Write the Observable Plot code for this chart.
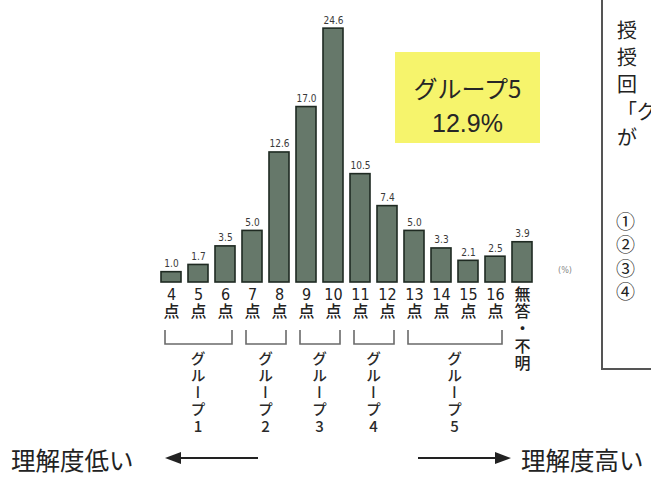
<!DOCTYPE html>
<html><head><meta charset="utf-8">
<script src="https://cdn.jsdelivr.net/npm/d3@7"></script>
<script src="https://cdn.jsdelivr.net/npm/@observablehq/plot@0.6"></script>
<style>
html,body{margin:0;padding:0;background:#fff;}
</style></head><body><div id="chart"></div>
<script>
const categories = ["4点","5点","6点","7点","8点","9点","10点","11点","12点","13点","14点","15点","16点","無答・不明"];
const values = [1.0,1.7,3.5,5.0,12.6,17.0,24.6,10.5,7.4,5.0,3.3,2.1,2.5,3.9];
const valueLabels = ["1.0","1.7","3.5","5.0","12.6","17.0","24.6","10.5","7.4","5.0","3.3","2.1","2.5","3.9"];
const groupNames = ["グループ1","グループ2","グループ3","グループ4","グループ5"];
const groupStart = ["4点","7点","9点","11点","13点"];
const groupEnd = ["6点","8点","10点","12点","16点"];
const highlightTitle = "グループ5";
const highlightValue = "12.9%";
const unitLabel = "(%)";
const lowLabel = "理解度低い";
const highLabel = "理解度高い";
const noteLines = ["授","授","回","「グ","が"];
const noteItems = ["①","②","③","④"];

const NARROW = "'Liberation Sans Narrow','DejaVu Sans Condensed','Roboto Condensed','Noto Sans CJK JP',sans-serif";
const JP = "'Noto Sans CJK JP','Noto Sans',sans-serif";

const rows = categories.map((c, i) => ({cat: c, value: values[i], label: valueLabels[i]}));
const tickText = c => c.endsWith("点") ? c.replace("点", "\n点") : [...c].join("\n");

const plot = Plot.plot({
  width: 651, height: 477,
  marginLeft: 150.6, marginRight: 109.4, marginTop: 24, marginBottom: 195,
  style: {background: "white", fontFamily: JP},
  x: {domain: categories, padding: 0.27, axis: null},
  y: {domain: [0, 25], axis: null},
  marks: [
    Plot.barY(rows, {x: "cat", y: "value", fill: "#66786a", stroke: "#1f2a22", strokeWidth: 1.6}),
    Plot.text(rows, {x: "cat", y: "value", text: "label", dy: -5, lineAnchor: "bottom", fontSize: 10, fill: "#3a3a3a", fontFamily: NARROW}),
    Plot.text(rows, {x: "cat", frameAnchor: "bottom", text: d => tickText(d.cat), lineAnchor: "top", dy: 5, fontSize: 16, lineHeight: 1.08, fill: "#222", fontWeight: 500, fontFamily: NARROW})
  ]
});
document.getElementById("chart").appendChild(plot);

const svg = d3.select(plot);
const xs = plot.scale("x");
const bw = xs.bandwidth;
const cx = c => xs.apply(c) + bw / 2;

// group brackets and vertical labels
const g = svg.append("g");
groupNames.forEach((name, i) => {
  const x0 = cx(groupStart[i]) - 6, x1 = cx(groupEnd[i]) + 7;
  g.append("path").attr("d", `M${x0},330V344H${x1}V330`).attr("fill", "none").attr("stroke", "#6a6a6a").attr("stroke-width", 1.6);
  const mid = (cx(groupStart[i]) + cx(groupEnd[i])) / 2;
  g.append("text").attr("x", mid).attr("y", 351).text(name)
    .attr("text-anchor", "start")
    .attr("style", "writing-mode: vertical-rl; text-orientation: upright;")
    .attr("font-size", 15).attr("font-weight", 500).attr("letter-spacing", 2).attr("fill", "#2a2a2a").attr("font-family", JP);
});

// unit label
svg.append("text").attr("x", 565).attr("y", 270).attr("text-anchor", "middle").attr("dominant-baseline", "central")
  .attr("font-size", 9).attr("fill", "#888").attr("font-family", NARROW).text(unitLabel);

// highlight box
svg.append("rect").attr("x", 395).attr("y", 52).attr("width", 145).attr("height", 91).attr("fill", "#f6f46c");
svg.append("text").attr("x", 467.5).attr("y", 87).attr("text-anchor", "middle").attr("dominant-baseline", "central")
  .attr("font-size", 24).attr("fill", "#262626").attr("font-family", JP).text(highlightTitle);
svg.append("text").attr("x", 467.5).attr("y", 123).attr("text-anchor", "middle").attr("dominant-baseline", "central")
  .attr("font-size", 25).attr("fill", "#262626").attr("font-family", "'Liberation Sans',Arial,sans-serif").text(highlightValue);

// note box (cut off at the right edge)
svg.append("rect").attr("x", 602).attr("y", -4).attr("width", 80).attr("height", 373)
  .attr("fill", "white").attr("stroke", "#555").attr("stroke-width", 2);
const noteY = [29, 56, 83, 110, 136];
noteLines.forEach((t, i) => svg.append("text").attr("x", 617).attr("y", noteY[i]).attr("text-anchor", "start").attr("dominant-baseline", "central")
  .attr("font-size", 20).attr("fill", "#222").attr("font-family", JP).text(t));
const itemY = [220, 243.5, 267, 290.5];
noteItems.forEach((t, i) => svg.append("text").attr("x", 616).attr("y", itemY[i]).attr("text-anchor", "start").attr("dominant-baseline", "central")
  .attr("font-size", 19).attr("fill", "#222").attr("font-family", JP).text(t));

// arrows and direction labels
const ay = 458;
svg.append("line").attr("x1", 178).attr("x2", 258).attr("y1", ay).attr("y2", ay).attr("stroke", "#222").attr("stroke-width", 2);
svg.append("path").attr("d", `M165,${ay}L181,${ay-6}L181,${ay+6}Z`).attr("fill", "#222");
svg.append("line").attr("x1", 418).attr("x2", 498).attr("y1", ay).attr("y2", ay).attr("stroke", "#222").attr("stroke-width", 2);
svg.append("path").attr("d", `M511,${ay}L495,${ay-6}L495,${ay+6}Z`).attr("fill", "#222");
svg.append("text").attr("x", 11).attr("y", 459).attr("text-anchor", "start").attr("dominant-baseline", "central")
  .attr("font-size", 24.5).attr("fill", "#222").attr("font-family", JP).text(lowLabel);
svg.append("text").attr("x", 521).attr("y", 459).attr("text-anchor", "start").attr("dominant-baseline", "central")
  .attr("font-size", 24.5).attr("fill", "#222").attr("font-family", JP).text(highLabel);
</script></body></html>
